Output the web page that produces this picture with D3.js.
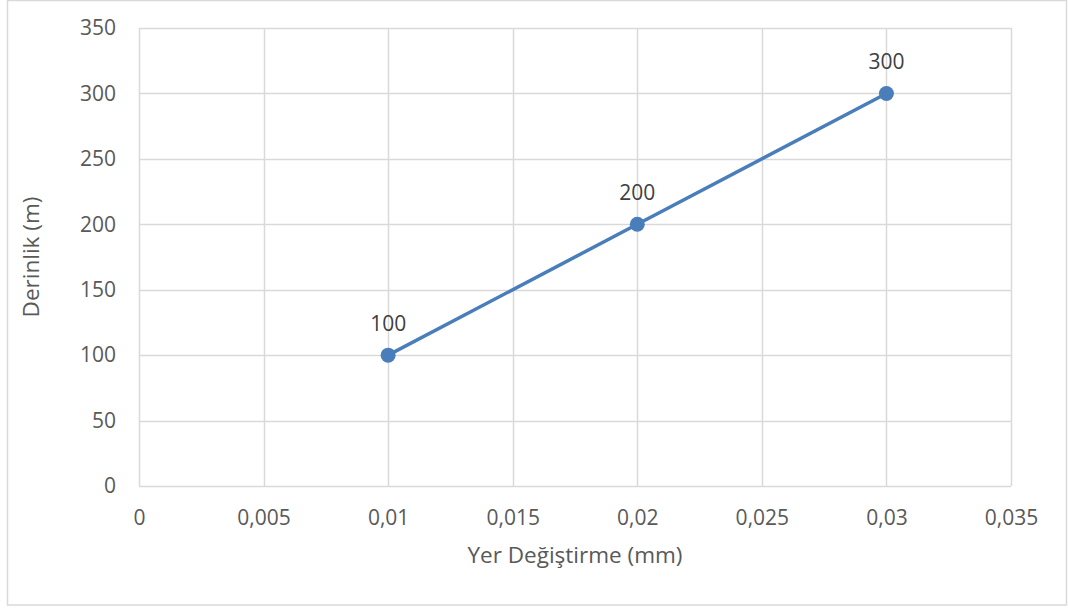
<!DOCTYPE html>
<html>
<head>
<meta charset="utf-8">
<script src="https://cdn.jsdelivr.net/npm/d3@7"></script>
<style>
  html, body { margin: 0; padding: 0; background: #fff; }
  svg { display: block; font-family: "Open Sans", sans-serif; }
</style>
</head>
<body>
<svg id="chart" width="1068" height="608"></svg>
<script>
// Displacement (mm) against depth (m)
const displacement = [0.01, 0.02, 0.03];
const depth = [100, 200, 300];
const xTicks = [0, 0.005, 0.01, 0.015, 0.02, 0.025, 0.03, 0.035];
const yTicks = [0, 50, 100, 150, 200, 250, 300, 350];
const xTitle = "Yer Değiştirme (mm)";
const yTitle = "Derinlik (m)";

const svg = d3.select("#chart");
const W = 1068, H = 608;
const m = { left: 139, right: 1011, top: 28, bottom: 486 };
const textColor = "#595959";
const gridColor = "#d9d9d9";
const lineColor = "#4a7ebb";

// chart frame
svg.append("rect")
  .attr("x", 7.5).attr("y", 0.5)
  .attr("width", W - 9).attr("height", H - 3.5)
  .attr("fill", "#fff").attr("stroke", gridColor).attr("stroke-width", 1.5);

const x = d3.scaleLinear().domain([0, 0.035]).range([m.left, m.right]);
const y = d3.scaleLinear().domain([0, 350]).range([m.bottom, m.top]);

const fmt = d => String(+d.toFixed(3)).replace(".", ",");

// gridlines
svg.append("g").selectAll("line").data(xTicks).join("line")
  .attr("x1", d => Math.round(x(d)) + 0.5).attr("x2", d => Math.round(x(d)) + 0.5)
  .attr("y1", m.top).attr("y2", m.bottom)
  .attr("stroke", gridColor).attr("stroke-width", 1.5);
svg.append("g").selectAll("line").data(yTicks).join("line")
  .attr("x1", m.left).attr("x2", m.right)
  .attr("y1", d => Math.round(y(d)) + 0.5).attr("y2", d => Math.round(y(d)) + 0.5)
  .attr("stroke", gridColor).attr("stroke-width", 1.5);

// axes (labels only, gridlines carry the ticks)
const xAxis = svg.append("g").attr("transform", `translate(0,${m.bottom})`)
  .call(d3.axisBottom(x).tickValues(xTicks).tickFormat(fmt).tickSize(0).tickPadding(24));
const yAxis = svg.append("g").attr("transform", `translate(${m.left},0)`)
  .call(d3.axisLeft(y).tickValues(yTicks).tickFormat(d => d).tickSize(0).tickPadding(23));
[xAxis, yAxis].forEach(a => {
  a.select(".domain").remove();
  a.selectAll("text").attr("fill", textColor).attr("font-size", 21)
    .attr("font-family", "'Open Sans', sans-serif");
});

// axis titles
svg.append("text")
  .attr("x", 575).attr("y", 563)
  .attr("text-anchor", "middle").attr("fill", textColor).attr("font-size", 22.5)
  .text(xTitle);
svg.append("text")
  .attr("transform", `translate(39,${(m.top + m.bottom) / 2}) rotate(-90)`)
  .attr("text-anchor", "middle").attr("fill", textColor).attr("font-size", 22.5)
  .text(yTitle);

const pts = displacement.map((d, i) => ({ x: d, y: depth[i] }));

// series line
svg.append("path").datum(pts)
  .attr("d", d3.line().x(d => x(d.x)).y(d => y(d.y)))
  .attr("fill", "none").attr("stroke", lineColor).attr("stroke-width", 3.5)
  .attr("stroke-linecap", "round");

// markers
svg.append("g").selectAll("circle").data(pts).join("circle")
  .attr("cx", d => x(d.x)).attr("cy", d => y(d.y)).attr("r", 7.5)
  .attr("fill", lineColor);

// value labels
svg.append("g").selectAll("text").data(pts).join("text")
  .attr("x", d => x(d.x)).attr("y", d => y(d.y) - 24)
  .attr("text-anchor", "middle").attr("fill", "#404040").attr("font-size", 21)
  .text(d => d.y);
</script>
</body>
</html>
